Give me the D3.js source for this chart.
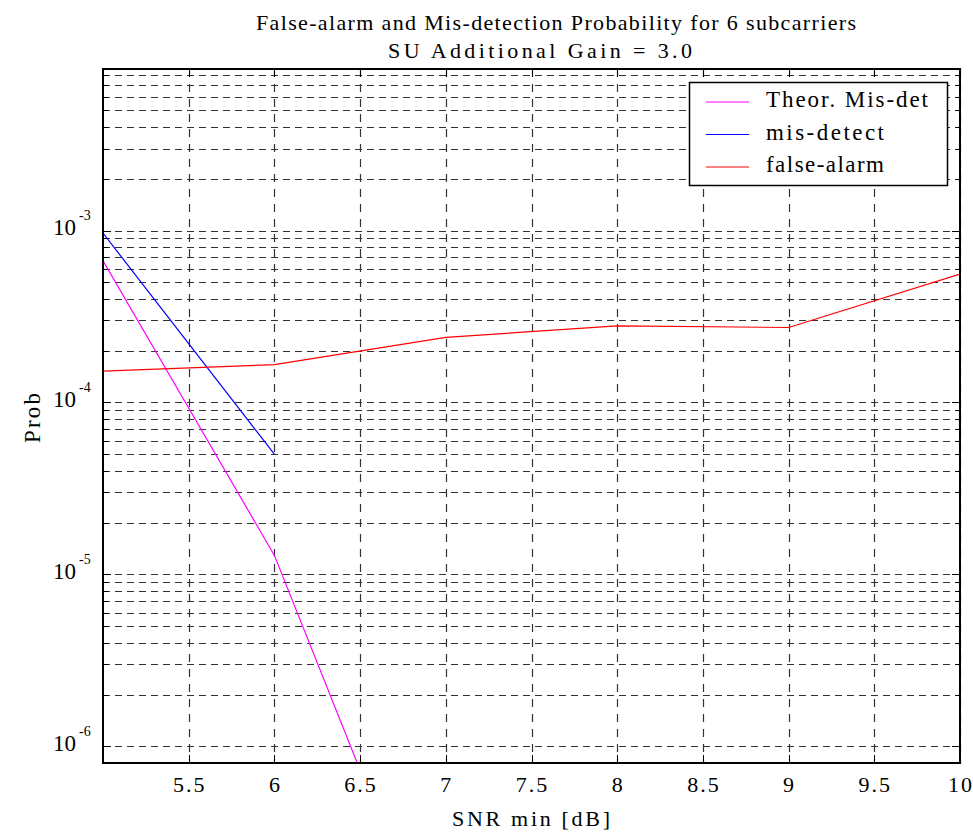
<!doctype html>
<html>
<body>
<style type="text/css">
    html,body{
        margin: 0;
        overflow: hidden;
        background: #fff;
    }
    text {
        font-family: "Liberation Serif", "Times New Roman", Times, serif;
        fill: #000;
    }
</style>
<script src="https://cdn.jsdelivr.net/npm/d3@7"></script>
<script type="text/javascript">
// SNR values (dB) and measured probabilities
var snr = [5, 6, 7, 8, 9, 10];
var theorMisdet = [6.67e-4, 1.29e-5, 4.1e-8];
var misDetect = [9.66e-4, 5.0e-5];
var falseAlarm = [1.52e-4, 1.66e-4, 2.39e-4, 2.79e-4, 2.73e-4, 5.58e-4];
var xTicks = [5.5, 6, 6.5, 7, 7.5, 8, 8.5, 9, 9.5, 10];
var yDecades = [-6, -5, -4, -3];

var series = [
    {name: "Theor. Mis-det", color: "#ff00ff", values: theorMisdet, w: 162},
    {name: "mis-detect", color: "#0000ff", values: misDetect, w: 118},
    {name: "false-alarm", color: "#ff0000", values: falseAlarm, w: 118}
];

(function(){
    var w = 973, h = 834,
        pL = 103, pR = 960, pT = 69, pB = 763;

    var svg = d3.select("body").append("svg")
        .attr("width", w)
        .attr("height", h);

    var x = d3.scaleLinear().domain([5, 10]).range([pL, pR]);
    var y = d3.scaleLog().domain([8e-7, 8.7e-3]).range([pB, pT]);

    // horizontal grid at every minor position
    var yGrid = [];
    yDecades.forEach(function(e){
        for (var k = 1; k <= 9; k++) {
            var v = k * Math.pow(10, e);
            if (v >= y.domain()[0] && v <= y.domain()[1]) yGrid.push(v);
        }
    });

    svg.append("g").selectAll("line").data(yGrid).enter().append("line")
        .attr("x1", pL).attr("x2", pR)
        .attr("y1", function(d){return Math.round(y(d)) + 0.5})
        .attr("y2", function(d){return Math.round(y(d)) + 0.5})
        .attr("stroke", "#333")
        .attr("stroke-width", 1.2)
        .attr("stroke-dasharray", "7,5");

    svg.append("g").selectAll("line").data(xTicks).enter().append("line")
        .attr("x1", function(d){return Math.round(x(d)) + 0.5})
        .attr("x2", function(d){return Math.round(x(d)) + 0.5})
        .attr("y1", pT).attr("y2", pB)
        .attr("stroke", "#333")
        .attr("stroke-width", 1.2)
        .attr("stroke-dasharray", "8,7");

    // tick marks inside the box
    var tk = 8;
    var ticks = svg.append("g").attr("stroke", "#000");
    xTicks.forEach(function(d){
        var px = Math.round(x(d)) + 0.5;
        ticks.append("line").attr("x1", px).attr("x2", px).attr("y1", pB).attr("y2", pB - tk);
        ticks.append("line").attr("x1", px).attr("x2", px).attr("y1", pT).attr("y2", pT + tk);
    });
    yGrid.forEach(function(d){
        var py = Math.round(y(d)) + 0.5;
        var major = yDecades.some(function(e){return Math.abs(d - Math.pow(10, e)) < 1e-12});
        var len = major ? tk : tk * 0.6;
        ticks.append("line").attr("x1", pL).attr("x2", pL + len).attr("y1", py).attr("y2", py);
        ticks.append("line").attr("x1", pR).attr("x2", pR - len).attr("y1", py).attr("y2", py);
    });

    // data lines
    svg.append("clipPath").attr("id", "plotclip")
        .append("rect").attr("x", pL).attr("y", pT)
        .attr("width", pR - pL).attr("height", pB - pT);

    var line = d3.line()
        .x(function(d){return x(d[0])})
        .y(function(d){return y(d[1])});

    svg.append("g").attr("clip-path", "url(#plotclip)")
        .selectAll("path").data(series).enter().append("path")
        .attr("d", function(s){
            return line(s.values.map(function(v, i){return [snr[i], v]}));
        })
        .attr("fill", "none")
        .attr("stroke", function(s){return s.color})
        .attr("stroke-width", 1.2);

    // box
    svg.append("rect")
        .attr("x", pL).attr("y", pT)
        .attr("width", pR - pL).attr("height", pB - pT)
        .attr("fill", "none")
        .attr("stroke", "#000")
        .attr("stroke-width", 2);

    // x tick labels
    svg.append("g").selectAll("text").data(xTicks).enter().append("text")
        .attr("x", function(d){return x(d) + 1})
        .attr("y", 792)
        .attr("text-anchor", "middle")
        .style("font-size", "22px")
        .style("letter-spacing", "2px")
        .text(function(d){return d});

    // y tick labels 10^n
    var yl = svg.append("g").selectAll("g").data(yDecades).enter().append("g")
        .attr("transform", function(d){return "translate(0," + y(Math.pow(10, d)) + ")"});
    yl.append("text")
        .attr("x", 53).attr("y", 4.5)
        .style("font-size", "23px")
        .text("10");
    yl.append("text")
        .attr("x", 79).attr("y", -10.5)
        .style("font-size", "14px")
        .text(function(d){return d});

    // titles
    svg.append("text")
        .attr("x", 556).attr("y", 30)
        .attr("text-anchor", "middle")
        .attr("textLength", 600).attr("lengthAdjust", "spacing")
        .style("font-size", "22px")
        .text("False-alarm and Mis-detection Probability for 6 subcarriers");
    svg.append("text")
        .attr("x", 540).attr("y", 58)
        .attr("text-anchor", "middle")
        .attr("textLength", 304).attr("lengthAdjust", "spacing")
        .style("font-size", "22px")
        .text("SU Additional Gain = 3.0");
    svg.append("text")
        .attr("x", 531).attr("y", 826)
        .attr("text-anchor", "middle")
        .attr("textLength", 158).attr("lengthAdjust", "spacing")
        .style("font-size", "22px")
        .text("SNR min [dB]");
    svg.append("text")
        .attr("transform", "translate(40,418) rotate(-90)")
        .attr("text-anchor", "middle")
        .attr("textLength", 50).attr("lengthAdjust", "spacing")
        .style("font-size", "23px")
        .text("Prob");

    // legend
    var lg = svg.append("g");
    lg.append("rect")
        .attr("x", 689.5).attr("y", 82.5)
        .attr("width", 258).attr("height", 103)
        .attr("fill", "#fff")
        .attr("stroke", "#000")
        .attr("stroke-width", 1.5);
    var items = lg.selectAll("g.item").data(series).enter().append("g")
        .attr("transform", function(d, i){return "translate(0," + (102 + i * 32.5) + ")"});
    items.append("line")
        .attr("x1", 706).attr("x2", 749)
        .attr("y1", 0).attr("y2", 0)
        .attr("stroke", function(d){return d.color});
    items.append("text")
        .attr("x", 766).attr("y", 5)
        .attr("textLength", function(d){return d.w}).attr("lengthAdjust", "spacing")
        .style("font-size", "23px")
        .text(function(d){return d.name});
})();
</script>
</body>
</html>
